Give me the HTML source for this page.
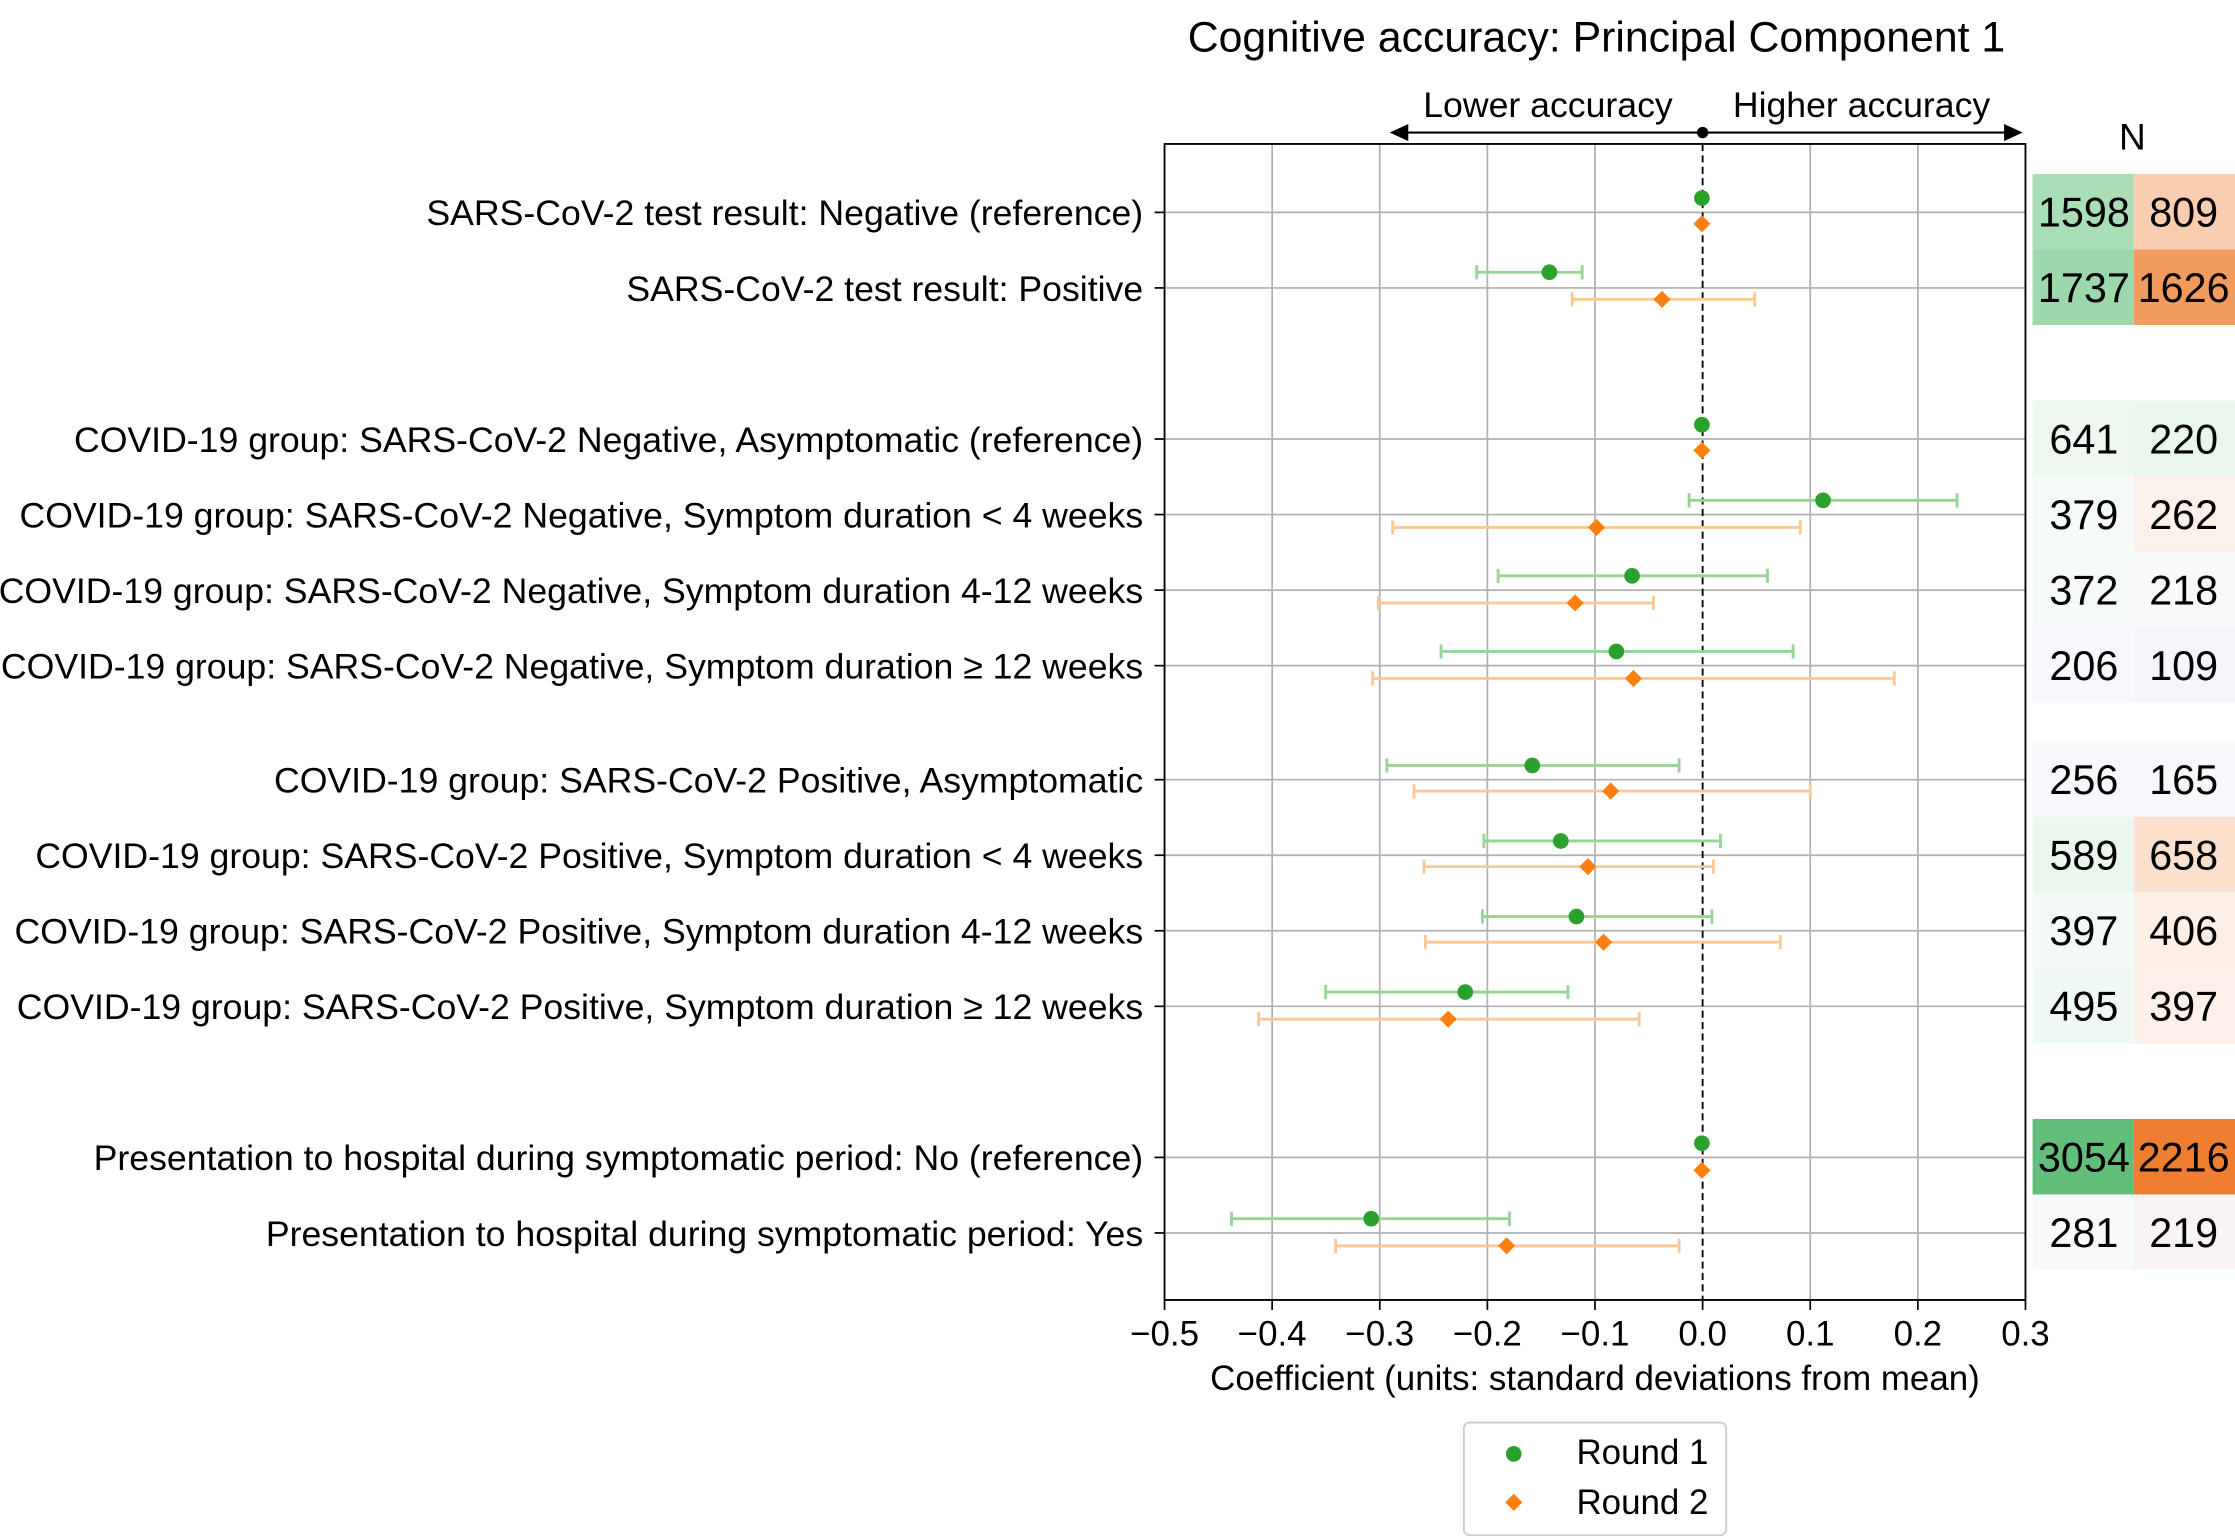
<!DOCTYPE html>
<html><head><meta charset="utf-8"><style>html,body{margin:0;padding:0;background:#fff}svg{display:block}text{font-family:"Liberation Sans",sans-serif;fill:#000}</style></head><body>
<svg width="2235" height="1536" viewBox="0 0 1568 1077.6" preserveAspectRatio="none" xmlns="http://www.w3.org/2000/svg">
<text x="1120" y="36" font-size="30" text-anchor="middle">Cognitive accuracy: Principal Component 1</text>
<text x="1086" y="82" font-size="25" text-anchor="middle">Lower accuracy</text>
<text x="1306" y="82" font-size="25" text-anchor="middle">Higher accuracy</text>
<line x1="982" y1="93" x2="1412" y2="93" stroke="#000" stroke-width="1.5"/>
<polygon points="975,93 988,87 988,99" fill="#000"/>
<polygon points="1419,93 1406,87 1406,99" fill="#000"/>
<circle cx="1194.5" cy="93" r="4" fill="#000"/>
<text x="1496" y="105" font-size="26" text-anchor="middle">N</text>
<g stroke="#b0b0b0" stroke-width="1.2">
<line x1="892.5" y1="101" x2="892.5" y2="912"/><line x1="968" y1="101" x2="968" y2="912"/><line x1="1043.5" y1="101" x2="1043.5" y2="912"/><line x1="1119" y1="101" x2="1119" y2="912"/><line x1="1270" y1="101" x2="1270" y2="912"/><line x1="1345.5" y1="101" x2="1345.5" y2="912"/>
<line x1="817" y1="149" x2="1421" y2="149"/><line x1="817" y1="202" x2="1421" y2="202"/><line x1="817" y1="308" x2="1421" y2="308"/><line x1="817" y1="361" x2="1421" y2="361"/><line x1="817" y1="414" x2="1421" y2="414"/><line x1="817" y1="467" x2="1421" y2="467"/><line x1="817" y1="547" x2="1421" y2="547"/><line x1="817" y1="600" x2="1421" y2="600"/><line x1="817" y1="653" x2="1421" y2="653"/><line x1="817" y1="706" x2="1421" y2="706"/><line x1="817" y1="812" x2="1421" y2="812"/><line x1="817" y1="865" x2="1421" y2="865"/>
</g>
<line x1="1194.5" y1="101" x2="1194.5" y2="912" stroke="#000" stroke-width="1.3" stroke-dasharray="5,3"/>
<g stroke="#98d496" stroke-width="2" fill="none">
<path d="M1036 191H1110M1036 186V196M1110 186V196"/>
<path d="M1185 351H1373M1185 346V356M1373 346V356"/>
<path d="M1051 404H1240M1051 399V409M1240 399V409"/>
<path d="M1011 457H1258M1011 452V462M1258 452V462"/>
<path d="M973 537H1178M973 532V542M1178 532V542"/>
<path d="M1041 590H1207M1041 585V595M1207 585V595"/>
<path d="M1040 643H1201M1040 638V648M1201 638V648"/>
<path d="M930 696H1100M930 691V701M1100 691V701"/>
<path d="M864 855H1059M864 850V860M1059 850V860"/>
</g>
<g stroke="#fdc896" stroke-width="2" fill="none">
<path d="M1103 210H1231M1103 205V215M1231 205V215"/>
<path d="M977 370H1263M977 365V375M1263 365V375"/>
<path d="M967 423H1160M967 418V428M1160 418V428"/>
<path d="M963 476H1329M963 471V481M1329 471V481"/>
<path d="M992 555H1270M992 550V560M1270 550V560"/>
<path d="M999 608H1202M999 603V613M1202 603V613"/>
<path d="M1000 661H1249M1000 656V666M1249 656V666"/>
<path d="M883 715H1150M883 710V720M1150 710V720"/>
<path d="M937 874H1178M937 869V879M1178 869V879"/>
</g>
<g fill="#2ca02c">
<circle cx="1194" cy="139" r="5.5"/><circle cx="1087" cy="191" r="5.5"/><circle cx="1194" cy="298" r="5.5"/><circle cx="1279" cy="351" r="5.5"/><circle cx="1145" cy="404" r="5.5"/><circle cx="1134" cy="457" r="5.5"/><circle cx="1075" cy="537" r="5.5"/><circle cx="1095" cy="590" r="5.5"/><circle cx="1106" cy="643" r="5.5"/><circle cx="1028" cy="696" r="5.5"/><circle cx="1194" cy="802" r="5.5"/><circle cx="962" cy="855" r="5.5"/>
</g>
<g fill="#ff7f0e">
<path d="M1194 151l6 6-6 6-6-6z"/><path d="M1166 204l6 6-6 6-6-6z"/><path d="M1194 310l6 6-6 6-6-6z"/><path d="M1120 364l6 6-6 6-6-6z"/><path d="M1105 417l6 6-6 6-6-6z"/><path d="M1146 470l6 6-6 6-6-6z"/><path d="M1130 549l6 6-6 6-6-6z"/><path d="M1114 602l6 6-6 6-6-6z"/><path d="M1125 655l6 6-6 6-6-6z"/><path d="M1016 709l6 6-6 6-6-6z"/><path d="M1194 815l6 6-6 6-6-6z"/><path d="M1057 868l6 6-6 6-6-6z"/>
</g>
<rect x="817" y="101" width="604" height="811" fill="none" stroke="#000" stroke-width="1.3"/>
<g stroke="#000" stroke-width="1.2">
<line x1="817" y1="912" x2="817" y2="919"/><line x1="892.5" y1="912" x2="892.5" y2="919"/><line x1="968" y1="912" x2="968" y2="919"/><line x1="1043.5" y1="912" x2="1043.5" y2="919"/><line x1="1119" y1="912" x2="1119" y2="919"/><line x1="1194.5" y1="912" x2="1194.5" y2="919"/><line x1="1270" y1="912" x2="1270" y2="919"/><line x1="1345.5" y1="912" x2="1345.5" y2="919"/><line x1="1421" y1="912" x2="1421" y2="919"/>
<line x1="810" y1="149" x2="817" y2="149"/><line x1="810" y1="202" x2="817" y2="202"/><line x1="810" y1="308" x2="817" y2="308"/><line x1="810" y1="361" x2="817" y2="361"/><line x1="810" y1="414" x2="817" y2="414"/><line x1="810" y1="467" x2="817" y2="467"/><line x1="810" y1="547" x2="817" y2="547"/><line x1="810" y1="600" x2="817" y2="600"/><line x1="810" y1="653" x2="817" y2="653"/><line x1="810" y1="706" x2="817" y2="706"/><line x1="810" y1="812" x2="817" y2="812"/><line x1="810" y1="865" x2="817" y2="865"/>
</g>
<g font-size="24.5" text-anchor="middle">
<text x="817" y="944">−0.5</text><text x="892.5" y="944">−0.4</text><text x="968" y="944">−0.3</text><text x="1043.5" y="944">−0.2</text><text x="1119" y="944">−0.1</text><text x="1194.5" y="944">0.0</text><text x="1270" y="944">0.1</text><text x="1345.5" y="944">0.2</text><text x="1421" y="944">0.3</text>
<text x="1119" y="975">Coefficient (units: standard deviations from mean)</text>
</g>
<g font-size="25" text-anchor="end">
<text x="802" y="158">SARS-CoV-2 test result: Negative (reference)</text>
<text x="802" y="211">SARS-CoV-2 test result: Positive</text>
<text x="802" y="317">COVID-19 group: SARS-CoV-2 Negative, Asymptomatic (reference)</text>
<text x="802" y="370">COVID-19 group: SARS-CoV-2 Negative, Symptom duration &lt; 4 weeks</text>
<text x="802" y="423">COVID-19 group: SARS-CoV-2 Negative, Symptom duration 4-12 weeks</text>
<text x="802" y="476">COVID-19 group: SARS-CoV-2 Negative, Symptom duration ≥ 12 weeks</text>
<text x="802" y="556">COVID-19 group: SARS-CoV-2 Positive, Asymptomatic</text>
<text x="802" y="609">COVID-19 group: SARS-CoV-2 Positive, Symptom duration &lt; 4 weeks</text>
<text x="802" y="662">COVID-19 group: SARS-CoV-2 Positive, Symptom duration 4-12 weeks</text>
<text x="802" y="715">COVID-19 group: SARS-CoV-2 Positive, Symptom duration ≥ 12 weeks</text>
<text x="802" y="821">Presentation to hospital during symptomatic period: No (reference)</text>
<text x="802" y="874">Presentation to hospital during symptomatic period: Yes</text>
</g>
<g>
<rect x="1426" y="122" width="71" height="53" fill="#a9ddb6"/><rect x="1497" y="122" width="71" height="53" fill="#f8cdb0"/>
<rect x="1426" y="175" width="71" height="53" fill="#9dd7ac"/><rect x="1497" y="175" width="71" height="53" fill="#f29b5f"/>
<rect x="1426" y="281" width="71" height="53" fill="#eef8f1"/><rect x="1497" y="281" width="71" height="53" fill="#e9f6ec"/>
<rect x="1426" y="334" width="71" height="53" fill="#f6fbf8"/><rect x="1497" y="334" width="71" height="53" fill="#fcf0ea"/>
<rect x="1426" y="387" width="71" height="53" fill="#f6fbf8"/><rect x="1497" y="387" width="71" height="53" fill="#f9f9fb"/>
<rect x="1426" y="440" width="71" height="53" fill="#f7f8fb"/><rect x="1497" y="440" width="71" height="53" fill="#f5f6fb"/>
<rect x="1426" y="520" width="71" height="53" fill="#f7f8fb"/><rect x="1497" y="520" width="71" height="53" fill="#f7f8fb"/>
<rect x="1426" y="573" width="71" height="53" fill="#ebf7ee"/><rect x="1497" y="573" width="71" height="53" fill="#fbe0cd"/>
<rect x="1426" y="626" width="71" height="53" fill="#f3faf5"/><rect x="1497" y="626" width="71" height="53" fill="#fcefe6"/>
<rect x="1426" y="679" width="71" height="53" fill="#eff8f2"/><rect x="1497" y="679" width="71" height="53" fill="#fcf0e8"/>
<rect x="1426" y="785" width="71" height="53" fill="#63be7b"/><rect x="1497" y="785" width="71" height="53" fill="#ef7e30"/>
<rect x="1426" y="838" width="71" height="53" fill="#f8f9fb"/><rect x="1497" y="838" width="71" height="53" fill="#f9f4f4"/>
</g>
<g font-size="29" text-anchor="middle">
<text x="1462" y="159">1598</text><text x="1532" y="159">809</text>
<text x="1462" y="212">1737</text><text x="1532" y="212">1626</text>
<text x="1462" y="318">641</text><text x="1532" y="318">220</text>
<text x="1462" y="371">379</text><text x="1532" y="371">262</text>
<text x="1462" y="424">372</text><text x="1532" y="424">218</text>
<text x="1462" y="477">206</text><text x="1532" y="477">109</text>
<text x="1462" y="557">256</text><text x="1532" y="557">165</text>
<text x="1462" y="610">589</text><text x="1532" y="610">658</text>
<text x="1462" y="663">397</text><text x="1532" y="663">406</text>
<text x="1462" y="716">495</text><text x="1532" y="716">397</text>
<text x="1462" y="822">3054</text><text x="1532" y="822">2216</text>
<text x="1462" y="875">281</text><text x="1532" y="875">219</text>
</g>
<rect x="1027" y="998" width="184" height="79" rx="4" fill="#fff" stroke="#ccc" stroke-width="1.3"/>
<circle cx="1062" cy="1020" r="5.5" fill="#2ca02c"/>
<path d="M1062 1048l6 6-6 6-6-6z" fill="#ff7f0e"/>
<text x="1106" y="1027" font-size="24.5">Round 1</text>
<text x="1106" y="1062" font-size="24.5">Round 2</text>
</svg>
</body></html>
